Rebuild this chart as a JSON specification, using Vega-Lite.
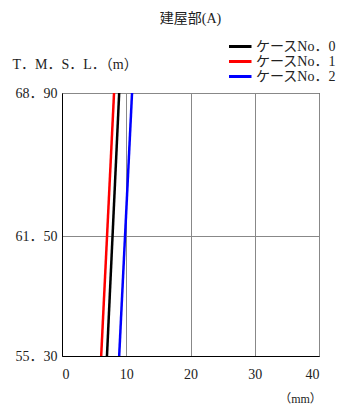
{
  "$schema": "https://vega.github.io/schema/vega-lite/v6.json",
  "width": 257,
  "height": 263,
  "autosize": "none",
  "padding": {"left": 62, "top": 93, "right": 19, "bottom": 58},
  "background": "white",
  "title": {"text": "建屋部(A)", "anchor": "middle", "offset": 14, "fontSize": 14, "fontWeight": "normal", "font": "Liberation Serif, Noto Sans CJK JP", "color": "#222"},
  "data": {"values": [
    {"case": "ケースNo．0", "z": 68.9, "d": 8.9},
    {"case": "ケースNo．0", "z": 55.3, "d": 7.0},
    {"case": "ケースNo．1", "z": 68.9, "d": 8.1},
    {"case": "ケースNo．1", "z": 55.3, "d": 6.1},
    {"case": "ケースNo．2", "z": 68.9, "d": 10.9},
    {"case": "ケースNo．2", "z": 55.3, "d": 8.9}
  ]},
  "mark": {"type": "line", "strokeWidth": 2.5, "clip": true},
  "encoding": {
    "x": {"field": "d", "type": "quantitative", "scale": {"domain": [0, 40], "nice": false},
      "axis": {"values": [0, 10, 20, 30, 40], "title": "（mm）", "titleX": 238, "titleY": 42, "titleAnchor": "middle", "titleBaseline": "middle", "titleFontWeight": "normal", "titleFontSize": 12, "labelFontSize": 14, "labelPadding": 11, "ticks": false, "domainColor": "black", "grid": true, "gridColor": "#888", "labelColor": "#222", "titleColor": "#222"}},
    "y": {"field": "z", "type": "quantitative", "scale": {"domain": [55.3, 68.9], "nice": false, "zero": false},
      "axis": {"values": [55.3, 61.5, 68.9], "format": ".2f", "labelExpr": "replace(format(datum.value, '.2f'), '.', '．')", "title": "T．M．S．L．（m）", "titleAngle": 0, "titleX": -50, "titleY": -29, "titleAlign": "left", "titleBaseline": "middle", "titleFontWeight": "normal", "titleFontSize": 14, "labelFontSize": 14, "labelPadding": 5, "ticks": false, "domainColor": "black", "grid": true, "gridColor": "#888", "labelColor": "#222", "titleColor": "#222"}},
    "color": {"field": "case", "type": "nominal", "scale": {"domain": ["ケースNo．0", "ケースNo．1", "ケースNo．2"], "range": ["#000000", "#ff0000", "#0000ff"]},
      "legend": {"title": null, "orient": "none", "legendX": 167, "legendY": -53, "symbolType": "M-3,0H2", "symbolSize": 196, "symbolStrokeWidth": 3, "labelFontSize": 14, "rowPadding": 0, "clipHeight": 13, "labelOffset": 10, "labelColor": "#222"}},
    "order": {"field": "z", "type": "quantitative"}
  },
  "config": {
    "font": "Liberation Serif, Noto Sans CJK JP",
    "view": {"stroke": "black", "strokeWidth": 1}
  }
}
